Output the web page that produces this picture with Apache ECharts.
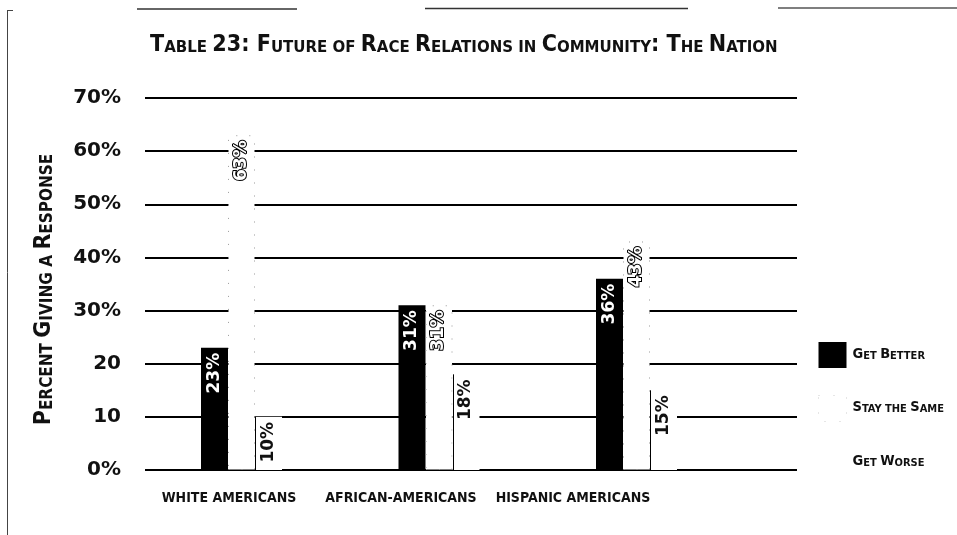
<!DOCTYPE html>
<html>
<head>
<meta charset="utf-8">
<script src="https://cdn.jsdelivr.net/npm/echarts@6/dist/echarts.min.js"></script>
<style>
  html, body { margin: 0; padding: 0; background: #fff; }
  #chart { width: 957px; height: 535px; }
</style>
</head>
<body>
<div id="chart"></div>
<script>
// Survey data: share of respondents expecting each outcome
const categories = ['WHITE AMERICANS', 'AFRICAN-AMERICANS', 'HISPANIC AMERICANS'];
const seriesNames = ['Get Better', 'Stay the Same', 'Get Worse'];
const getBetter = [23, 31, 36];
const staySame = [63, 31, 43];
const getWorse = [10, 18, 15];
const yTickLabels = ['0%', '10', '20', '30%', '40%', '50%', '60%', '70%'];
const titleText = 'Table 23: Future of Race Relations in Community: The Nation';
const yAxisTitle = 'Percent Giving a Response';

const COND = "'DejaVu Sans Condensed', 'Liberation Sans Narrow', sans-serif";
const BAR_W = 27;

// Turn mixed-case text into small caps: capitals stay large, lower case becomes small capitals
function smallCaps(str) {
  let out = '';
  let buf = '';
  let mode = null;
  const flush = () => { if (buf) { out += '{' + mode + '|' + buf + '}'; buf = ''; } };
  for (const ch of str) {
    let m;
    if (ch === ' ') m = mode || 's';
    else if (ch >= 'a' && ch <= 'z') m = 's';
    else m = 'b';
    if (m !== mode) { flush(); mode = m; }
    buf += ch.toUpperCase();
  }
  flush();
  return out;
}

function capsRich(big, small, color) {
  return {
    b: { fontFamily: COND, fontWeight: 'bold', fontSize: big, color: color, verticalAlign: 'bottom', lineHeight: big + 4 },
    s: { fontFamily: COND, fontWeight: 'bold', fontSize: small, color: color, verticalAlign: 'bottom', lineHeight: big + 4 }
  };
}

const chart = echarts.init(document.getElementById('chart'));

const gridTop = 98, gridBottom = 65;

const option = {
  backgroundColor: '#fff',
  animation: false,
  title: {
    text: smallCaps(titleText),
    left: 145,
    top: 24,
    textStyle: { rich: capsRich(23.1, 16.7, '#111') }
  },
  legend: {
    data: [
      { name: seriesNames[0] },
      { name: seriesNames[1], itemStyle: { borderColor: '#ccc', borderWidth: 1, borderType: [1, 14] } },
      { name: seriesNames[2] }
    ],
    orient: 'vertical',
    left: 813,
    top: 337,
    itemWidth: 28,
    itemHeight: 26,
    itemGap: 27,
    icon: 'rect',
    formatter: (name) => smallCaps(name),
    textStyle: { padding: [0, 0, 6, 1], rich: capsRich(14.5, 11, '#111') }
  },
  grid: [
    // background grid carrying the value axis and its gridlines
    { left: 145, right: 160, top: gridTop, bottom: gridBottom },
    // bars
    { left: 142.75, width: 592.5, top: gridTop, bottom: gridBottom },
    // group names
    { left: 143, width: 516, top: gridTop, bottom: gridBottom }
  ],
  xAxis: [
    { gridIndex: 0, type: 'value', show: false },
    { gridIndex: 1, type: 'category', data: categories, show: false },
    {
      gridIndex: 2, type: 'category', data: categories,
      axisLine: { show: false }, axisTick: { show: false },
      axisLabel: { interval: 0, margin: 21, color: '#111', fontFamily: COND, fontWeight: 'bold', fontSize: 14 }
    }
  ],
  yAxis: [
    {
      gridIndex: 0, type: 'value', min: 0, max: 70, interval: 10,
      axisLine: { show: false }, axisTick: { show: false },
      splitLine: { show: true, lineStyle: { color: '#000', width: 2 } },
      axisLabel: {
        margin: 24, color: '#111', fontFamily: 'DejaVu Sans', fontWeight: 'bold', fontSize: 20,
        verticalAlign: 'middle', padding: [0, 0, 12, 0],
        formatter: (v) => yTickLabels[Math.round(v / 10)]
      },
      name: smallCaps(yAxisTitle),
      nameLocation: 'middle',
      nameRotate: 90,
      nameGap: 89,
      nameTextStyle: { rich: capsRich(23, 17, '#111'), padding: [0, 11, 0, 0] }
    },
    { gridIndex: 1, type: 'value', min: 0, max: 70, interval: 10, show: false },
    { gridIndex: 2, type: 'value', min: 0, max: 70, interval: 10, show: false }
  ],
  series: [
    {
      name: 'Get Better', type: 'bar', xAxisIndex: 1, yAxisIndex: 1,
      data: getBetter, barWidth: BAR_W, barGap: '0%',
      itemStyle: { color: '#000' },
      label: {
        show: true, position: 'insideTop', distance: 5, rotate: 90,
        align: 'right', verticalAlign: 'middle',
        formatter: '{c}%', color: '#fff', fontFamily: 'DejaVu Sans', fontWeight: 'bold', fontSize: 17
      }
    },
    {
      name: 'Stay the Same', type: 'bar', xAxisIndex: 1, yAxisIndex: 1,
      data: staySame, barWidth: BAR_W, barGap: '0%',
      itemStyle: { color: '#fff', borderColor: '#999', borderWidth: 1, borderType: [1, 12] },
      label: {
        show: true, position: 'insideTop', distance: 5, rotate: 90,
        align: 'right', verticalAlign: 'middle',
        formatter: '{c}%', color: '#fff', textBorderColor: '#000', textBorderWidth: 2,
        fontFamily: 'DejaVu Sans', fontWeight: 'bold', fontSize: 17
      }
    },
    {
      name: 'Get Worse', type: 'bar', xAxisIndex: 1, yAxisIndex: 1,
      data: getWorse, barWidth: BAR_W, barGap: '0%',
      itemStyle: { color: '#fff' },
      label: {
        show: true, position: 'insideTop', distance: 5, rotate: 90,
        align: 'right', verticalAlign: 'middle',
        formatter: '{c}%', color: '#111', fontFamily: 'DejaVu Sans', fontWeight: 'bold', fontSize: 17
      }
    },
    {
      // thin rule along the left edge of each "Get Worse" bar
      name: 'worseEdge', type: 'custom', xAxisIndex: 1, yAxisIndex: 1, z: 3,
      data: getWorse.map((v, i) => [i, v]),
      renderItem: (params, api) => {
        const top = api.coord([api.value(0), api.value(1)]);
        const base = api.coord([api.value(0), 0]);
        const x = Math.round(top[0] + BAR_W / 2) + 0.5;
        return {
          type: 'line',
          shape: { x1: x, y1: top[1], x2: x, y2: base[1] },
          style: { stroke: '#000', lineWidth: 1 }
        };
      }
    }
  ],
  graphic: [
    // page frame rules
    { type: 'line', shape: { x1: 7.5, y1: 10, x2: 7.5, y2: 535 }, style: { stroke: '#444', lineWidth: 1 } },
    { type: 'line', shape: { x1: 7, y1: 10.5, x2: 13, y2: 10.5 }, style: { stroke: '#444', lineWidth: 1 } },
    { type: 'line', shape: { x1: 137, y1: 9, x2: 297, y2: 9 }, style: { stroke: '#333', lineWidth: 1.5 } },
    { type: 'line', shape: { x1: 425, y1: 8.5, x2: 688, y2: 8.5 }, style: { stroke: '#333', lineWidth: 1.5 } },
    { type: 'line', shape: { x1: 778, y1: 8, x2: 957, y2: 8 }, style: { stroke: '#555', lineWidth: 1.5 } }
  ]
};

chart.setOption(option);
</script>
</body>
</html>
